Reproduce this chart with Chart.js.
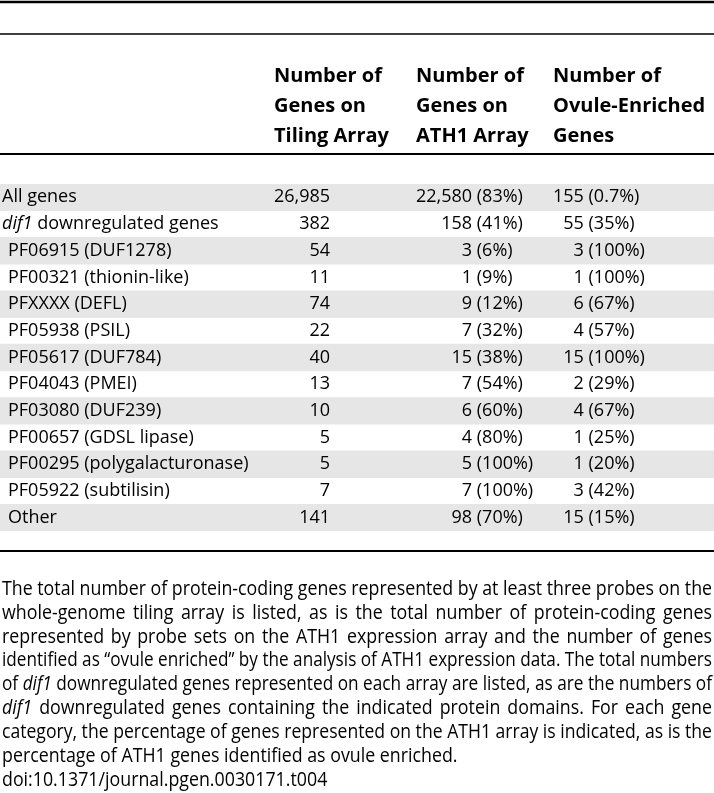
<!DOCTYPE html>
<html lang="en">
<head>
<meta charset="utf-8">
<title>dif1 downregulated genes by protein domain</title>
<script src="https://cdn.jsdelivr.net/npm/chart.js@4.4.1/dist/chart.umd.min.js"></script>
<style>
  html, body { margin: 0; padding: 0; background: #fff; }
  #wrap { width: 714px; height: 793px; }
</style>
</head>
<body>
<div id="wrap"><canvas id="tableChart" width="714" height="793"></canvas></div>
<script>
// Rows of the table (text between * is italic)
const rowLabels = [
  'All genes',
  '*dif1* downregulated genes',
  'PF06915 (DUF1278)',
  'PF00321 (thionin-like)',
  'PFXXXX (DEFL)',
  'PF05938 (PSIL)',
  'PF05617 (DUF784)',
  'PF04043 (PMEI)',
  'PF03080 (DUF239)',
  'PF00657 (GDSL lipase)',
  'PF00295 (polygalacturonase)',
  'PF05922 (subtilisin)',
  'Other',
];
const rowIndented = [false, false, true, true, true, true, true, true, true, true, true, true, true];

// Column values
const tilingCounts = [26985, 382, 54, 11, 74, 22, 40, 13, 10, 5, 5, 7, 141];
const ath1Counts = [22580, 158, 3, 1, 9, 7, 15, 7, 6, 4, 5, 7, 98];
const ath1Pct = ['83%', '41%', '6%', '9%', '12%', '32%', '38%', '54%', '60%', '80%', '100%', '100%', '70%'];
const ovuleCounts = [155, 55, 3, 1, 6, 4, 15, 2, 4, 1, 1, 3, 15];
const ovulePct = ['0.7%', '35%', '100%', '100%', '67%', '57%', '100%', '29%', '67%', '25%', '20%', '42%', '15%'];

const headerLines = [
  ['Number of', 'Genes on', 'Tiling Array'],
  ['Number of', 'Genes on', 'ATH1 Array'],
  ['Number of', 'Ovule-Enriched', 'Genes'],
];

const captionLines = [
  'The total number of protein-coding genes represented by at least three probes on the',
  'whole-genome tiling array is listed, as is the total number of protein-coding genes',
  'represented by probe sets on the ATH1 expression array and the number of genes',
  'identified as \u201covule enriched\u201d by the analysis of ATH1 expression data. The total numbers',
  'of *dif1* downregulated genes represented on each array are listed, as are the numbers of',
  '*dif1* downregulated genes containing the indicated protein domains. For each gene',
  'category, the percentage of genes represented on the ATH1 array is indicated, as is the',
  'percentage of ATH1 genes identified as ovule enriched.',
  'doi:10.1371/journal.pgen.0030171.t004',
];
const captionJustified = [true, true, true, true, true, true, true, false, false];

// layout
const FAMILY = '"Open Sans", "Noto Sans", sans-serif';
const BODY_FONT = '18px ' + FAMILY;
const HEAD_FONT = 'bold 20px ' + FAMILY;
const CAPTION_FONT = '20px ' + FAMILY;
const CAPTION_SQUEEZE = 0.89; // caption face is condensed
const headerLeft = [274, 416, 553];
const headerY = [76, 106, 136];
const rules = [[2, 2.5], [34, 1.5], [154, 2], [551, 2]];
const captionTop = 589, captionStep = 23.9, captionLeft = 2, captionRight = 712;

const fmt = n => n.toLocaleString('en-US');

// draw a string where *word* parts are italic
function drawRich(ctx, text, x, y, font) {
  const parts = text.split('*');
  parts.forEach((p, i) => {
    if (!p) return;
    ctx.font = (i % 2 ? 'italic ' : '') + font;
    ctx.fillText(p, x, y);
    x += ctx.measureText(p).width;
  });
}

function drawCaptionLine(ctx, line, y, justify) {
  const words = line.split(' ').map(w => {
    const italic = w.startsWith('*');
    const text = w.replace(/\*/g, '');
    ctx.font = (italic ? 'italic ' : '') + CAPTION_FONT;
    return { text, italic, w: ctx.measureText(text).width };
  });
  ctx.font = CAPTION_FONT;
  const space = ctx.measureText(' ').width;
  let sx = CAPTION_SQUEEZE;
  const avail = (captionRight - captionLeft) / sx;
  const sumW = words.reduce((s, w) => s + w.w, 0);
  const natural = sumW + space * (words.length - 1);
  let gap = space;
  if (natural > avail) {
    sx *= avail / natural;
  } else if (justify && words.length > 1) {
    gap = (avail - sumW) / (words.length - 1);
  }
  ctx.save();
  ctx.translate(captionLeft, y);
  ctx.scale(sx, 1);
  let x = 0;
  words.forEach(w => {
    ctx.font = (w.italic ? 'italic ' : '') + CAPTION_FONT;
    ctx.fillText(w.text, x, 0);
    x += w.w + gap;
  });
  ctx.restore();
}

const tableText = {
  id: 'tableText',
  afterDatasetsDraw(chart) {
    const { ctx, scales: { x, y } } = chart;
    ctx.save();
    ctx.fillStyle = '#000';
    ctx.textBaseline = 'middle';

    // horizontal rules
    rules.forEach(([ry, h]) => ctx.fillRect(x.getPixelForValue(0), ry - h / 2, x.getPixelForValue(714), h));

    // column headers
    ctx.font = HEAD_FONT;
    ctx.textAlign = 'left';
    headerLines.forEach((lines, c) => {
      lines.forEach((t, k) => ctx.fillText(t, x.getPixelForValue(headerLeft[c]), headerY[k]));
    });

    // numbers are right aligned so the widest entry starts at the header edge
    ctx.font = BODY_FONT;
    const widest = arr => Math.max(...arr.map(v => ctx.measureText(fmt(v)).width));
    const right1 = headerLeft[0] + widest(tilingCounts);
    const right2 = headerLeft[1] + widest(ath1Counts);
    const right3 = headerLeft[2] + widest(ovuleCounts);
    const space = ctx.measureText(' ').width;

    rowLabels.forEach((label, i) => {
      const py = y.getPixelForValue(i);
      ctx.textAlign = 'left';
      drawRich(ctx, label, x.getPixelForValue(rowIndented[i] ? 8 : 2), py, BODY_FONT);
      ctx.font = BODY_FONT;
      ctx.textAlign = 'right';
      ctx.fillText(fmt(tilingCounts[i]), x.getPixelForValue(right1), py);
      ctx.fillText(fmt(ath1Counts[i]), x.getPixelForValue(right2), py);
      ctx.fillText(fmt(ovuleCounts[i]), x.getPixelForValue(right3), py);
      ctx.textAlign = 'left';
      ctx.fillText('(' + ath1Pct[i] + ')', x.getPixelForValue(right2 + space), py);
      ctx.fillText('(' + ovulePct[i] + ')', x.getPixelForValue(right3 + space), py);
    });

    // caption
    ctx.textAlign = 'left';
    captionLines.forEach((line, k) => drawCaptionLine(ctx, line, captionTop + k * captionStep, captionJustified[k]));
    ctx.restore();
  }
};

const ctx = document.getElementById('tableChart').getContext('2d');
new Chart(ctx, {
  type: 'bar',
  data: {
    labels: rowLabels,
    datasets: [{
      // shaded stripes on every other row
      data: rowLabels.map((_, i) => (i % 2 === 0 ? [0, 714] : null)),
      backgroundColor: '#e6e6e6',
      borderWidth: 0,
      barPercentage: 1,
      categoryPercentage: 1,
    }],
  },
  options: {
    indexAxis: 'y',
    responsive: false,
    animation: false,
    events: [],
    layout: { padding: { top: 184, bottom: 262, left: 0, right: 0 } },
    plugins: { legend: { display: false }, tooltip: { enabled: false } },
    scales: {
      x: { type: 'linear', min: 0, max: 714, display: false },
      y: { display: false, offset: true, grid: { display: false } },
    },
  },
  plugins: [tableText],
});
</script>
</body>
</html>
